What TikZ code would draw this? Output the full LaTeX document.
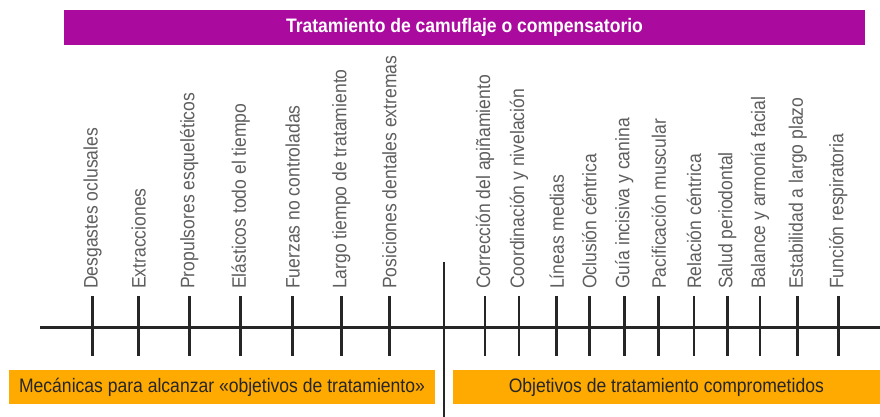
\documentclass[tikz,border=0pt]{standalone}
\usepackage{fontspec}
\setmainfont{Liberation Sans}[FakeStretch=0.9]
\usepackage{xcolor}
\usepackage{tikz}
\usetikzlibrary{shapes,arrows}
\definecolor{camuflaje}{HTML}{AA0A9E}
\definecolor{naranja}{HTML}{FFAA00}
\definecolor{grisTexto}{HTML}{5E5E5E}
\definecolor{grisLinea}{HTML}{262626}
\tikzstyle{axis} = [draw=grisLinea, line width=3pt]
\tikzstyle{tick} = [draw=grisLinea, line width=2.6pt]
\tikzstyle{itemLabel} = [text=grisTexto, rotate=90, anchor=west, inner sep=0pt,
    font=\fontsize{19.5}{22}\selectfont]
\tikzstyle{titleBar} = [fill=camuflaje, text=white, minimum width=801pt,
    minimum height=35pt, inner sep=0pt, font=\fontsize{19.5}{22}\selectfont\bfseries]
\tikzstyle{groupBox} = [fill=naranja, text=grisLinea, minimum height=34pt,
    inner sep=0pt, font=\fontsize{19.5}{22}\selectfont]

\begin{document}
\begin{tikzpicture}[x=1pt, y=-1pt]
      \useasboundingbox (0,0) rectangle (880,417);

      % Place nodes
      \node [titleBar] (titulo) at (464.5,27.5) {Tratamiento de camuflaje o compensatorio};

      \node [groupBox, minimum width=426pt] (mecanicas) at (222,387)
            {Mecánicas para alcanzar «objetivos de tratamiento»};
      \node [groupBox, minimum width=427.3pt] (objetivos) at (666.3,387)
            {Objetivos de tratamiento comprometidos};

      \node [itemLabel] (desgastes) at (92.7,289) {Desgastes oclusales};
      \node [itemLabel] (extracciones) at (138.7,289) {Extracciones};
      \node [itemLabel] (propulsores) at (189.3,289) {Propulsores esqueléticos};
      \node [itemLabel] (elasticos) at (240.7,289) {Elásticos todo el tiempo};
      \node [itemLabel] (fuerzas) at (292.7,289) {Fuerzas no controladas};
      \node [itemLabel] (largo) at (341.3,289) {Largo tiempo de tratamiento};
      \node [itemLabel] (posiciones) at (389.3,289) {Posiciones dentales extremas};

      \node [itemLabel] (apinamiento) at (485,289) {Corrección del apiñamiento};
      \node [itemLabel] (coordinacion) at (519,289) {Coordinación y nivelación};
      \node [itemLabel] (lineas) at (556.7,289) {Líneas medias};
      \node [itemLabel] (oclusion) at (589.3,289) {Oclusión céntrica};
      \node [itemLabel] (guia) at (624.3,289) {Guía incisiva y canina};
      \node [itemLabel] (pacificacion) at (658.7,289) {Pacificación muscular};
      \node [itemLabel] (relacion) at (694,289) {Relación céntrica};
      \node [itemLabel] (salud) at (727.3,289) {Salud periodontal};
      \node [itemLabel] (balance) at (760,289) {Balance y armonía facial};
      \node [itemLabel] (estabilidad) at (797.7,289) {Estabilidad a largo plazo};
      \node [itemLabel] (funcion) at (838.3,289) {Función respiratoria};

      % axis and divider
      \path [axis] (40,327) -- (880,327);
      \path [tick] (444,262) -- (444,417);

      % ticks
      \path [tick] (92.7,296) -- (92.7,356);
      \path [tick] (138.7,296) -- (138.7,356);
      \path [tick] (189.3,296) -- (189.3,356);
      \path [tick] (240.7,296) -- (240.7,356);
      \path [tick] (292.7,296) -- (292.7,356);
      \path [tick] (341.3,296) -- (341.3,356);
      \path [tick] (389.3,296) -- (389.3,356);
      \path [tick] (485,296) -- (485,356);
      \path [tick] (519,296) -- (519,356);
      \path [tick] (556.7,296) -- (556.7,356);
      \path [tick] (589.3,296) -- (589.3,356);
      \path [tick] (624.3,296) -- (624.3,356);
      \path [tick] (658.7,296) -- (658.7,356);
      \path [tick] (694,296) -- (694,356);
      \path [tick] (727.3,296) -- (727.3,356);
      \path [tick] (760,296) -- (760,356);
      \path [tick] (797.7,296) -- (797.7,356);
      \path [tick] (838.3,296) -- (838.3,356);

  \end{tikzpicture}
\end{document}
